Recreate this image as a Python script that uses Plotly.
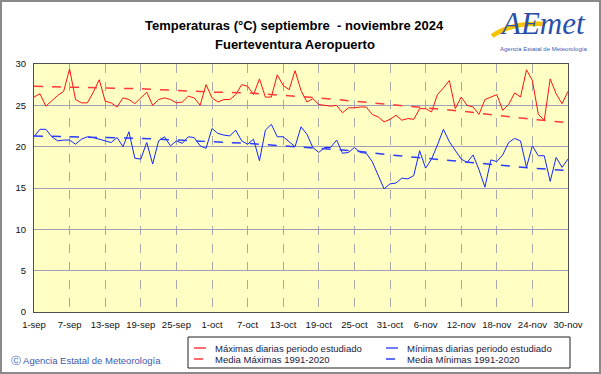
import pandas as pd
import plotly.graph_objects as go

# ---------------- data ----------------
start_date = "2024-09-01"
end_date = "2024-11-30"

max_vals = [26.0, 26.4, 24.9, 25.6, 26.2, 26.7, 29.4, 25.7, 25.3, 25.3,
            26.6, 28.1, 25.5, 25.3, 24.8, 25.9, 25.7, 25.2, 25.9, 26.6,
            25.0, 25.7, 25.9, 25.7, 25.3, 25.4, 26.1, 25.9, 25.0, 27.5,
            25.9, 25.4, 25.7, 25.7, 26.3, 27.5, 27.3, 26.3, 28.2, 26.0,
            26.0, 28.7, 27.4, 26.9, 29.2, 26.8, 25.4, 25.8, 25.1, 25.0,
            24.9, 25.0, 24.1, 24.7, 24.7, 24.8, 24.8, 23.9, 23.6, 23.0,
            23.3, 23.8, 23.2, 23.4, 23.3, 24.6, 24.6, 24.2, 26.3, 27.1,
            28.0, 24.6, 26.0, 25.0, 24.8, 23.9, 25.7, 26.0, 26.3, 24.4,
            25.1, 26.5, 26.0, 29.3, 28.0, 23.9, 23.2, 28.2, 26.4, 25.2,
            26.7]

min_vals = [21.2, 22.1, 22.1, 21.2, 20.7, 20.8, 20.8, 20.3, 20.9, 21.2,
            21.1, 20.9, 20.7, 20.5, 21.1, 20.0, 21.8, 18.6, 18.5, 20.5,
            17.9, 20.7, 21.2, 20.1, 20.7, 20.4, 21.2, 21.1, 20.1, 19.8,
            22.2, 21.6, 21.4, 21.3, 22.0, 20.7, 20.3, 20.9, 18.3, 22.0,
            22.7, 21.2, 21.2, 20.6, 20.0, 22.4, 21.5, 19.9, 19.3, 19.9,
            19.9, 20.8, 19.2, 19.3, 19.9, 19.3, 19.2, 18.2, 16.6, 14.9,
            15.5, 15.6, 16.2, 16.1, 16.5, 19.5, 17.4, 18.5, 20.2, 22.1,
            20.6, 19.6, 18.5, 18.1, 19.0, 17.2, 15.1, 18.4, 18.2, 19.0,
            20.5, 21.0, 20.7, 17.5, 20.1, 18.9, 18.9, 15.8, 18.7, 17.5,
            18.5]

# climatology (1991-2020) read at tick dates
tick_labels = ["1-sep", "7-sep", "13-sep", "19-sep", "25-sep", "1-oct", "7-oct",
               "13-oct", "19-oct", "25-oct", "31-oct", "6-nov", "12-nov",
               "18-nov", "24-nov", "30-nov"]
mean_max = [27.3, 27.2, 27.1, 27.0, 26.8, 26.6, 26.5, 26.2, 25.9, 25.5,
            25.1, 24.7, 24.3, 23.8, 23.3, 22.9]
mean_min = [21.3, 21.2, 21.1, 21.0, 20.8, 20.6, 20.4, 20.1, 19.8, 19.5,
            19.0, 18.6, 18.2, 17.8, 17.4, 17.1]
y_ticks = [0, 5, 10, 15, 20, 25, 30]

title_1 = "Temperaturas (°C) septiembre  - noviembre 2024"
title_2 = "Fuerteventura Aeropuerto"
legend_labels = ["Máximas diarias periodo estudiado", "Media Máximas 1991-2020",
                 "Mínimas diarias periodo estudiado", "Media Mínimas 1991-2020"]
credit = "Agencia Estatal de Meteorología"

# ---------------- figure ----------------
dates = pd.date_range(start_date, end_date, freq="D")
tick_dates = dates[::6]

RED = "#ff1010"
BLUE = "#1426ff"

fig = go.Figure()
fig.add_trace(go.Scatter(x=dates, y=max_vals, mode="lines",
                         line=dict(color=RED, width=1), name=legend_labels[0]))
fig.add_trace(go.Scatter(x=dates, y=min_vals, mode="lines",
                         line=dict(color=BLUE, width=1), name=legend_labels[2]))
fig.add_trace(go.Scatter(x=tick_dates, y=mean_max, mode="lines",
                         line=dict(color="#ff3a3a", width=1.5, dash="dash"),
                         name=legend_labels[1]))
fig.add_trace(go.Scatter(x=tick_dates, y=mean_min, mode="lines",
                         line=dict(color="#2a3cff", width=1.5, dash="dash"),
                         name=legend_labels[3]))

L, T, W, H = 34, 64, 534, 248
FW, FH = 601, 374


def px(x):
    return (x - L) / W


def py(y):
    return (T + H - y) / H


shapes = []
annotations = []

# outer frame
shapes.append(dict(type="rect", xref="paper", yref="paper",
                   x0=px(1), x1=px(600), y0=py(373), y1=py(1),
                   line=dict(color="#8a8a8a", width=2), layer="below"))

# legend box
shapes.append(dict(type="rect", xref="paper", yref="paper",
                   x0=px(188), x1=px(570), y0=py(368), y1=py(337),
                   line=dict(color="#202020", width=1), fillcolor="white"))
leg_items = [
    (194, 348, RED, "solid", legend_labels[0]),
    (194, 359, "#ff3a3a", "dash", legend_labels[1]),
    (386, 348, BLUE, "solid", legend_labels[2]),
    (386, 359, "#2a3cff", "dash", legend_labels[3]),
]
for lx, ly, col, dash, txt in leg_items:
    shapes.append(dict(type="line", xref="paper", yref="paper",
                       x0=px(lx), x1=px(lx + 12), y0=py(ly), y1=py(ly),
                       line=dict(color=col, width=1.5 if dash == "dash" else 1.2,
                                 dash="dash" if dash == "dash" else "solid")))
    annotations.append(dict(xref="paper", yref="paper", x=px(lx + 19), y=py(ly),
                            text=txt, showarrow=False, xanchor="left",
                            yanchor="middle",
                            font=dict(size=9.5, color="#202040",
                                      family="Liberation Sans, Arial")))

# titles
annotations.append(dict(xref="paper", yref="paper", x=px(294), y=py(26),
                        text="<b>" + title_1 + "</b>", showarrow=False,
                        xanchor="center", yanchor="middle",
                        font=dict(size=13, color="black",
                                  family="Liberation Sans, Arial")))
annotations.append(dict(xref="paper", yref="paper", x=px(295), y=py(44),
                        text="<b>" + title_2 + "</b>", showarrow=False,
                        xanchor="center", yanchor="middle",
                        font=dict(size=13, color="black",
                                  family="Liberation Sans, Arial")))

# credit
annotations.append(dict(xref="paper", yref="paper", x=px(9), y=py(360),
                        text="\u24b8 " + credit, showarrow=False,
                        xanchor="left", yanchor="middle",
                        font=dict(size=9.5, color="#3a5ab0",
                                  family="Liberation Sans, Arial")))

# logo
annotations.append(dict(xref="paper", yref="paper", x=px(543), y=py(24),
                        text="<i>AEmet</i>", showarrow=False,
                        xanchor="center", yanchor="middle",
                        font=dict(size=31, color="#2850a8",
                                  family="Liberation Serif, serif")))
annotations.append(dict(xref="paper", yref="paper", x=px(543), y=py(49),
                        text=credit, showarrow=False,
                        xanchor="center", yanchor="middle",
                        font=dict(size=6, color="#3a5ab0",
                                  family="Liberation Sans, Arial")))
# yellow swoosh drawn as a curved line (shape on top of text)
swoosh = "M {:.4f},{:.4f} Q {:.4f},{:.4f} {:.4f},{:.4f}".format(
    px(492), py(36), px(512), py(22), px(545), py(24))

fig.update_layout(
    width=FW, height=FH,
    margin=dict(l=L, r=FW - L - W, t=T, b=FH - T - H, pad=0),
    paper_bgcolor="white",
    plot_bgcolor="#ffffc4",
    showlegend=False,
    hovermode=False,
    shapes=shapes + [dict(type="path", xref="paper", yref="paper", path=swoosh,
                          line=dict(color="#f5c400", width=4.5), layer="above")],
    annotations=annotations,
    xaxis=dict(range=[dates[0], dates[-1]], tickmode="array",
               tickvals=list(tick_dates), ticktext=tick_labels,
               showgrid=True, gridcolor="#a8a8a8", griddash="dash", gridwidth=1,
               showline=True, linecolor="#505050", linewidth=1, mirror=True,
               ticks="", zeroline=False, automargin=False,
               ticklabelstandoff=4,
               tickfont=dict(size=9.5, color="#101010",
                             family="Liberation Sans, Arial")),
    yaxis=dict(range=[0, 30], tickmode="array", tickvals=y_ticks,
               showgrid=True, gridcolor="#a0a0bc", gridwidth=1,
               showline=True, linecolor="#505050", linewidth=1, mirror=True,
               ticks="", zeroline=False, automargin=False,
               ticklabelstandoff=5,
               tickfont=dict(size=9.5, color="#101010",
                             family="Liberation Sans, Arial")),
)

fig.write_html("out.html",
               config={"displayModeBar": False, "staticPlot": True},
               post_script="document.body.style.margin='0px';"
                           "document.body.style.overflow='hidden';")
